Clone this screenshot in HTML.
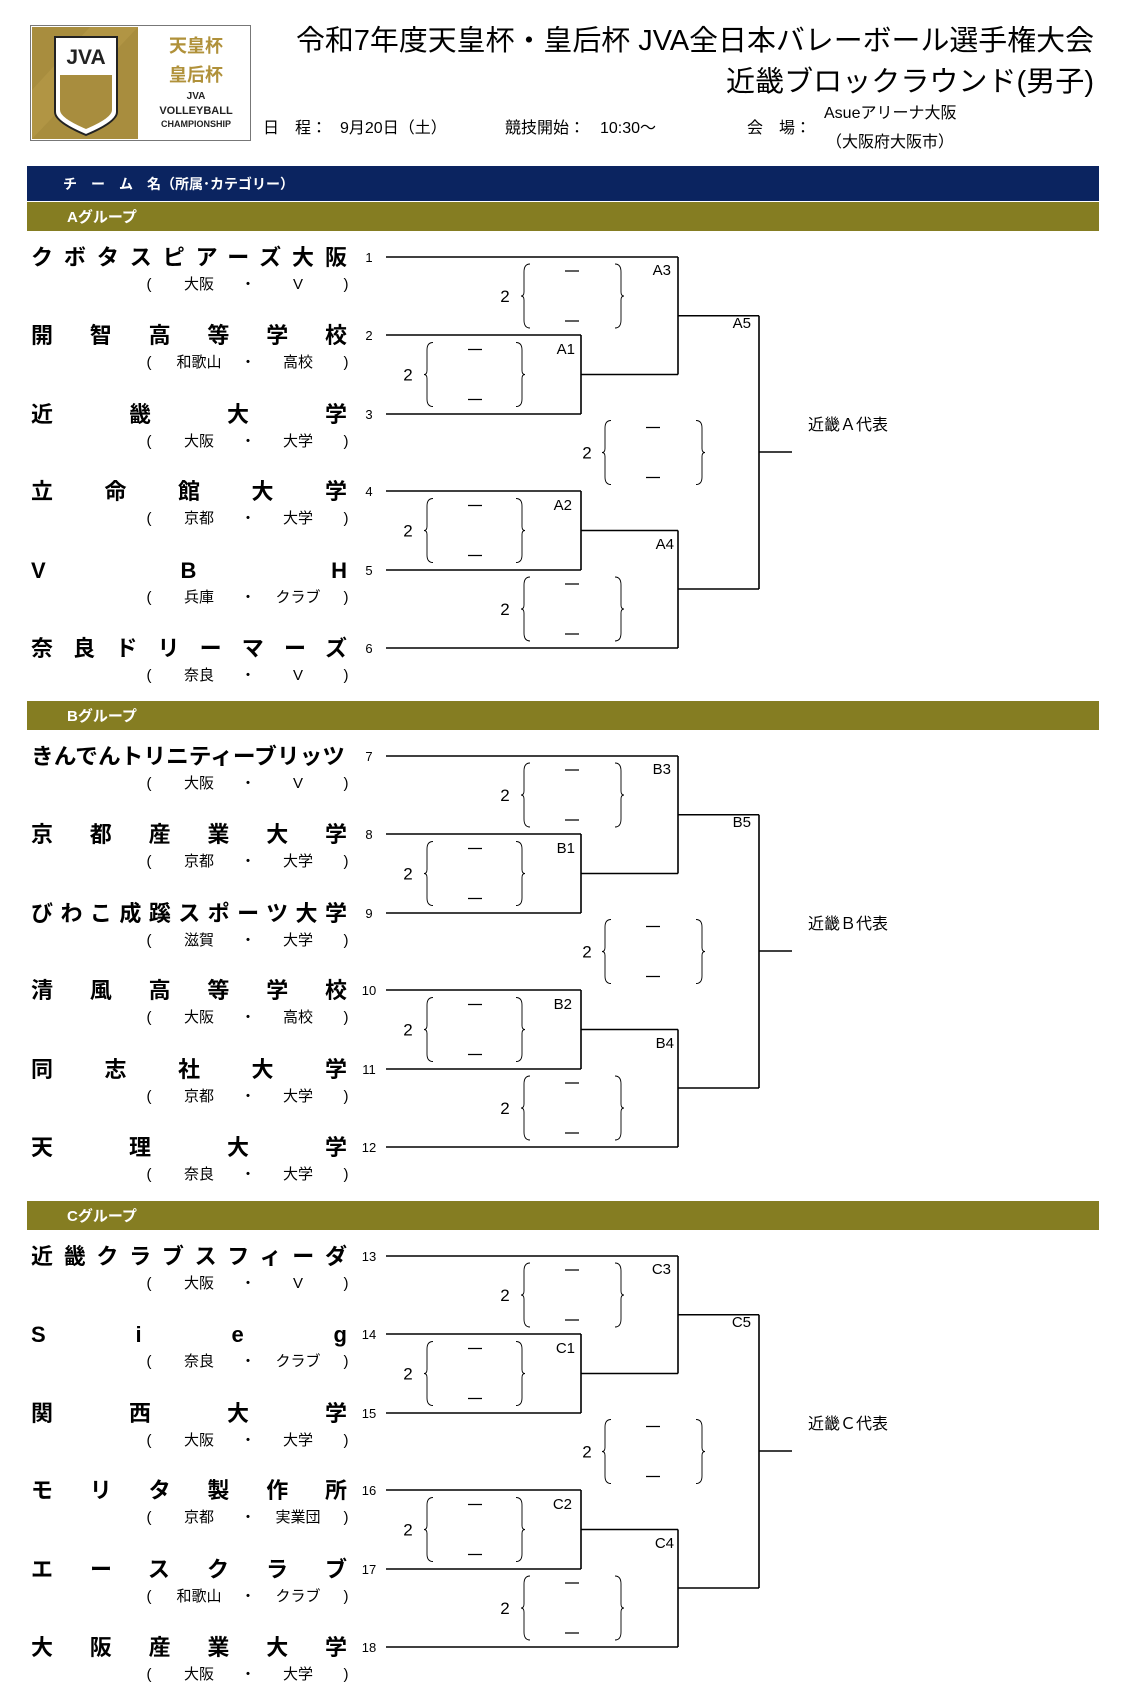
<!DOCTYPE html>
<html><head><meta charset="utf-8"><style>
html,body{margin:0;padding:0;background:#fff;}
svg{display:block;font-family:"Liberation Sans","Noto Sans CJK JP",sans-serif;}
.nm{font-size:22px;font-weight:bold;fill:#000;}
.sb{font-size:15px;fill:#000;}
.no{font-size:13px;fill:#000;}
.lb{font-size:15px;fill:#000;}
.ln{fill:none;stroke:#000;stroke-width:1.6;}
.br{fill:none;stroke:#000;stroke-width:0.9;}
</style></head><body>
<svg width="1123" height="1689" viewBox="0 0 1123 1689" xmlns="http://www.w3.org/2000/svg">
<defs>
<g id="brk">
<path class="ln" d="M386,0H678M386,78H581M386,157H581M581,78V157M581,117.5H678M678,0V117.5M678,58.75H759M386,234H581M386,313H581M581,234V313M581,273.5H678M386,391H678M678,273.5V391M678,332H759M759,58.75V332M759,195H792"/>
<path class="br" d="M433,85.5Q427,85.5 427,93V113.5Q427,117.5 424,117.5Q427,117.5 427,121.5V142Q427,149.5 433,149.5M516,85.5Q522,85.5 522,93V113.5Q522,117.5 525,117.5Q522,117.5 522,121.5V142Q522,149.5 516,149.5"/>
<path class="br" d="M433,241.5Q427,241.5 427,249V269.5Q427,273.5 424,273.5Q427,273.5 427,277.5V298Q427,305.5 433,305.5M516,241.5Q522,241.5 522,249V269.5Q522,273.5 525,273.5Q522,273.5 522,277.5V298Q522,305.5 516,305.5"/>
<path class="br" d="M530,7Q524,7 524,15V35Q524,39 521,39Q524,39 524,43V63Q524,71 530,71M615,7Q621,7 621,15V35Q621,39 624,39Q621,39 621,43V63Q621,71 615,71"/>
<path class="br" d="M530,320Q524,320 524,328V348Q524,352 521,352Q524,352 524,356V376Q524,384 530,384M615,320Q621,320 621,328V348Q621,352 624,352Q621,352 621,356V376Q621,384 615,384"/>
<path class="br" d="M611,163.5Q605,163.5 605,171V191.5Q605,195.5 602,195.5Q605,195.5 605,199.5V220Q605,227.5 611,227.5M696,163.5Q702,163.5 702,171V191.5Q702,195.5 705,195.5Q702,195.5 702,199.5V220Q702,227.5 696,227.5"/>
<path class="ln" d="M468,92.5H482M468,142.5H482M468,248.5H482M468,298.5H482M565,14H579M565,64H579M565,327H579M565,377H579M646,170.5H660M646,220.5H660" style="stroke-width:1.3"/>
</g>
</defs>

<rect x="30.5" y="25.5" width="220" height="115" fill="#fff" stroke="#777" stroke-width="1"/>
<rect x="32" y="27" width="106" height="112" fill="#a88d3e"/>
<polygon points="32,90 90,27 138,27 32,139" fill="#b89b4a" opacity="0.6"/>
<path d="M55,37H117V112Q117,122 86,135Q55,122 55,112Z" fill="#fff" stroke="#222" stroke-width="2"/>
<path d="M60,75H112V110Q112,118 86,129Q60,118 60,110Z" fill="#a88d3e"/>
<text x="86" y="64" text-anchor="middle" style="font-size:21px;font-weight:bold;fill:#222">JVA</text>
<text x="196" y="52" text-anchor="middle" style="font-size:18px;font-weight:bold;fill:#b0913a">天皇杯</text>
<text x="196" y="81" text-anchor="middle" style="font-size:18px;font-weight:bold;fill:#b0913a">皇后杯</text>
<text x="196" y="99" text-anchor="middle" style="font-size:10px;font-weight:bold;fill:#222">JVA</text>
<text x="196" y="114" text-anchor="middle" style="font-size:11px;font-weight:bold;fill:#222">VOLLEYBALL</text>
<text x="196" y="127" text-anchor="middle" style="font-size:9px;font-weight:bold;fill:#222">CHAMPIONSHIP</text>

<text x="296" y="50" textLength="798" lengthAdjust="spacingAndGlyphs" style="font-size:28.5px;fill:#000">令和7年度天皇杯・皇后杯 JVA全日本バレーボール選手権大会</text>
<text x="726" y="91" textLength="368" lengthAdjust="spacingAndGlyphs" style="font-size:28.5px;fill:#000">近畿ブロックラウンド(男子)</text>
<text x="263" y="133" style="font-size:16px">日　程：</text>
<text x="340" y="133" style="font-size:16px">9月20日（土）</text>
<text x="505" y="133" style="font-size:16px">競技開始：</text>
<text x="600" y="133" style="font-size:16px">10:30～</text>
<text x="747" y="133" style="font-size:16px">会　場：</text>
<text x="824" y="118" style="font-size:16px">Asueアリーナ大阪</text>
<text x="826" y="147" style="font-size:16px">（大阪府大阪市）</text>

<rect x="27" y="166" width="1072" height="35" fill="#0b2460"/>
<text x="63" y="189" style="font-size:14px;font-weight:bold;fill:#fff">チ　ー　ム　名（所属･カテゴリー）</text>

<rect x="27" y="202" width="1072" height="29" fill="#857d22"/>
<text x="67" y="222" style="font-size:15px;font-weight:bold;fill:#fff">Aグループ</text>
<g transform="translate(0,257)">
<use href="#brk"/>
<text x="408" y="123.5" class="lb" text-anchor="middle" style="font-size:17px">2</text>
<text x="408" y="279.5" class="lb" text-anchor="middle" style="font-size:17px">2</text>
<text x="505" y="45" class="lb" text-anchor="middle" style="font-size:17px">2</text>
<text x="505" y="358" class="lb" text-anchor="middle" style="font-size:17px">2</text>
<text x="587" y="201.5" class="lb" text-anchor="middle" style="font-size:17px">2</text>
<text x="575" y="97" class="lb" text-anchor="end">A1</text>
<text x="572" y="253" class="lb" text-anchor="end">A2</text>
<text x="671" y="18" class="lb" text-anchor="end">A3</text>
<text x="674" y="292" class="lb" text-anchor="end">A4</text>
<text x="751" y="71" class="lb" text-anchor="end">A5</text>
<text x="808" y="173" style="font-size:16px">近畿Ａ代表</text>
<text x="369" y="5" class="no" text-anchor="middle">1</text>
<text x="369" y="83" class="no" text-anchor="middle">2</text>
<text x="369" y="162" class="no" text-anchor="middle">3</text>
<text x="369" y="239" class="no" text-anchor="middle">4</text>
<text x="369" y="318" class="no" text-anchor="middle">5</text>
<text x="369" y="396" class="no" text-anchor="middle">6</text>
<text x="31" y="8" class="nm" textLength="316" lengthAdjust="spacing">クボタスピアーズ大阪</text>
<text x="31" y="86" class="nm" textLength="316" lengthAdjust="spacing">開智高等学校</text>
<text x="31" y="165" class="nm" textLength="316" lengthAdjust="spacing">近畿大学</text>
<text x="31" y="242" class="nm" textLength="316" lengthAdjust="spacing">立命館大学</text>
<text x="31" y="321" class="nm" textLength="316" lengthAdjust="spacing">VBH</text>
<text x="31" y="399" class="nm" textLength="316" lengthAdjust="spacing">奈良ドリーマーズ</text>
<g class="sb" text-anchor="middle">
<text x="149" y="32">(</text><text x="199" y="32">大阪</text><text x="248" y="32">・</text><text x="298" y="32">V</text><text x="346" y="32">)</text>
<text x="149" y="110">(</text><text x="199" y="110">和歌山</text><text x="248" y="110">・</text><text x="298" y="110">高校</text><text x="346" y="110">)</text>
<text x="149" y="189">(</text><text x="199" y="189">大阪</text><text x="248" y="189">・</text><text x="298" y="189">大学</text><text x="346" y="189">)</text>
<text x="149" y="266">(</text><text x="199" y="266">京都</text><text x="248" y="266">・</text><text x="298" y="266">大学</text><text x="346" y="266">)</text>
<text x="149" y="345">(</text><text x="199" y="345">兵庫</text><text x="248" y="345">・</text><text x="298" y="345">クラブ</text><text x="346" y="345">)</text>
<text x="149" y="423">(</text><text x="199" y="423">奈良</text><text x="248" y="423">・</text><text x="298" y="423">V</text><text x="346" y="423">)</text>
</g>
</g>

<rect x="27" y="701" width="1072" height="29" fill="#857d22"/>
<text x="67" y="721" style="font-size:15px;font-weight:bold;fill:#fff">Bグループ</text>
<g transform="translate(0,756)">
<use href="#brk"/>
<text x="408" y="123.5" class="lb" text-anchor="middle" style="font-size:17px">2</text>
<text x="408" y="279.5" class="lb" text-anchor="middle" style="font-size:17px">2</text>
<text x="505" y="45" class="lb" text-anchor="middle" style="font-size:17px">2</text>
<text x="505" y="358" class="lb" text-anchor="middle" style="font-size:17px">2</text>
<text x="587" y="201.5" class="lb" text-anchor="middle" style="font-size:17px">2</text>
<text x="575" y="97" class="lb" text-anchor="end">B1</text>
<text x="572" y="253" class="lb" text-anchor="end">B2</text>
<text x="671" y="18" class="lb" text-anchor="end">B3</text>
<text x="674" y="292" class="lb" text-anchor="end">B4</text>
<text x="751" y="71" class="lb" text-anchor="end">B5</text>
<text x="808" y="173" style="font-size:16px">近畿Ｂ代表</text>
<text x="369" y="5" class="no" text-anchor="middle">7</text>
<text x="369" y="83" class="no" text-anchor="middle">8</text>
<text x="369" y="162" class="no" text-anchor="middle">9</text>
<text x="369" y="239" class="no" text-anchor="middle">10</text>
<text x="369" y="318" class="no" text-anchor="middle">11</text>
<text x="369" y="396" class="no" text-anchor="middle">12</text>
<text x="31" y="8" class="nm" textLength="314" lengthAdjust="spacingAndGlyphs">きんでんトリニティーブリッツ</text>
<text x="31" y="86" class="nm" textLength="316" lengthAdjust="spacing">京都産業大学</text>
<text x="31" y="165" class="nm" textLength="316" lengthAdjust="spacing">びわこ成蹊スポーツ大学</text>
<text x="31" y="242" class="nm" textLength="316" lengthAdjust="spacing">清風高等学校</text>
<text x="31" y="321" class="nm" textLength="316" lengthAdjust="spacing">同志社大学</text>
<text x="31" y="399" class="nm" textLength="316" lengthAdjust="spacing">天理大学</text>
<g class="sb" text-anchor="middle">
<text x="149" y="32">(</text><text x="199" y="32">大阪</text><text x="248" y="32">・</text><text x="298" y="32">V</text><text x="346" y="32">)</text>
<text x="149" y="110">(</text><text x="199" y="110">京都</text><text x="248" y="110">・</text><text x="298" y="110">大学</text><text x="346" y="110">)</text>
<text x="149" y="189">(</text><text x="199" y="189">滋賀</text><text x="248" y="189">・</text><text x="298" y="189">大学</text><text x="346" y="189">)</text>
<text x="149" y="266">(</text><text x="199" y="266">大阪</text><text x="248" y="266">・</text><text x="298" y="266">高校</text><text x="346" y="266">)</text>
<text x="149" y="345">(</text><text x="199" y="345">京都</text><text x="248" y="345">・</text><text x="298" y="345">大学</text><text x="346" y="345">)</text>
<text x="149" y="423">(</text><text x="199" y="423">奈良</text><text x="248" y="423">・</text><text x="298" y="423">大学</text><text x="346" y="423">)</text>
</g>
</g>

<rect x="27" y="1201" width="1072" height="29" fill="#857d22"/>
<text x="67" y="1221" style="font-size:15px;font-weight:bold;fill:#fff">Cグループ</text>
<g transform="translate(0,1256)">
<use href="#brk"/>
<text x="408" y="123.5" class="lb" text-anchor="middle" style="font-size:17px">2</text>
<text x="408" y="279.5" class="lb" text-anchor="middle" style="font-size:17px">2</text>
<text x="505" y="45" class="lb" text-anchor="middle" style="font-size:17px">2</text>
<text x="505" y="358" class="lb" text-anchor="middle" style="font-size:17px">2</text>
<text x="587" y="201.5" class="lb" text-anchor="middle" style="font-size:17px">2</text>
<text x="575" y="97" class="lb" text-anchor="end">C1</text>
<text x="572" y="253" class="lb" text-anchor="end">C2</text>
<text x="671" y="18" class="lb" text-anchor="end">C3</text>
<text x="674" y="292" class="lb" text-anchor="end">C4</text>
<text x="751" y="71" class="lb" text-anchor="end">C5</text>
<text x="808" y="173" style="font-size:16px">近畿Ｃ代表</text>
<text x="369" y="5" class="no" text-anchor="middle">13</text>
<text x="369" y="83" class="no" text-anchor="middle">14</text>
<text x="369" y="162" class="no" text-anchor="middle">15</text>
<text x="369" y="239" class="no" text-anchor="middle">16</text>
<text x="369" y="318" class="no" text-anchor="middle">17</text>
<text x="369" y="396" class="no" text-anchor="middle">18</text>
<text x="31" y="8" class="nm" textLength="316" lengthAdjust="spacing">近畿クラブスフィーダ</text>
<text x="31" y="86" class="nm" textLength="316" lengthAdjust="spacing">Sieg</text>
<text x="31" y="165" class="nm" textLength="316" lengthAdjust="spacing">関西大学</text>
<text x="31" y="242" class="nm" textLength="316" lengthAdjust="spacing">モリタ製作所</text>
<text x="31" y="321" class="nm" textLength="316" lengthAdjust="spacing">エースクラブ</text>
<text x="31" y="399" class="nm" textLength="316" lengthAdjust="spacing">大阪産業大学</text>
<g class="sb" text-anchor="middle">
<text x="149" y="32">(</text><text x="199" y="32">大阪</text><text x="248" y="32">・</text><text x="298" y="32">V</text><text x="346" y="32">)</text>
<text x="149" y="110">(</text><text x="199" y="110">奈良</text><text x="248" y="110">・</text><text x="298" y="110">クラブ</text><text x="346" y="110">)</text>
<text x="149" y="189">(</text><text x="199" y="189">大阪</text><text x="248" y="189">・</text><text x="298" y="189">大学</text><text x="346" y="189">)</text>
<text x="149" y="266">(</text><text x="199" y="266">京都</text><text x="248" y="266">・</text><text x="298" y="266">実業団</text><text x="346" y="266">)</text>
<text x="149" y="345">(</text><text x="199" y="345">和歌山</text><text x="248" y="345">・</text><text x="298" y="345">クラブ</text><text x="346" y="345">)</text>
<text x="149" y="423">(</text><text x="199" y="423">大阪</text><text x="248" y="423">・</text><text x="298" y="423">大学</text><text x="346" y="423">)</text>
</g>
</g>
</svg>
</body></html>
